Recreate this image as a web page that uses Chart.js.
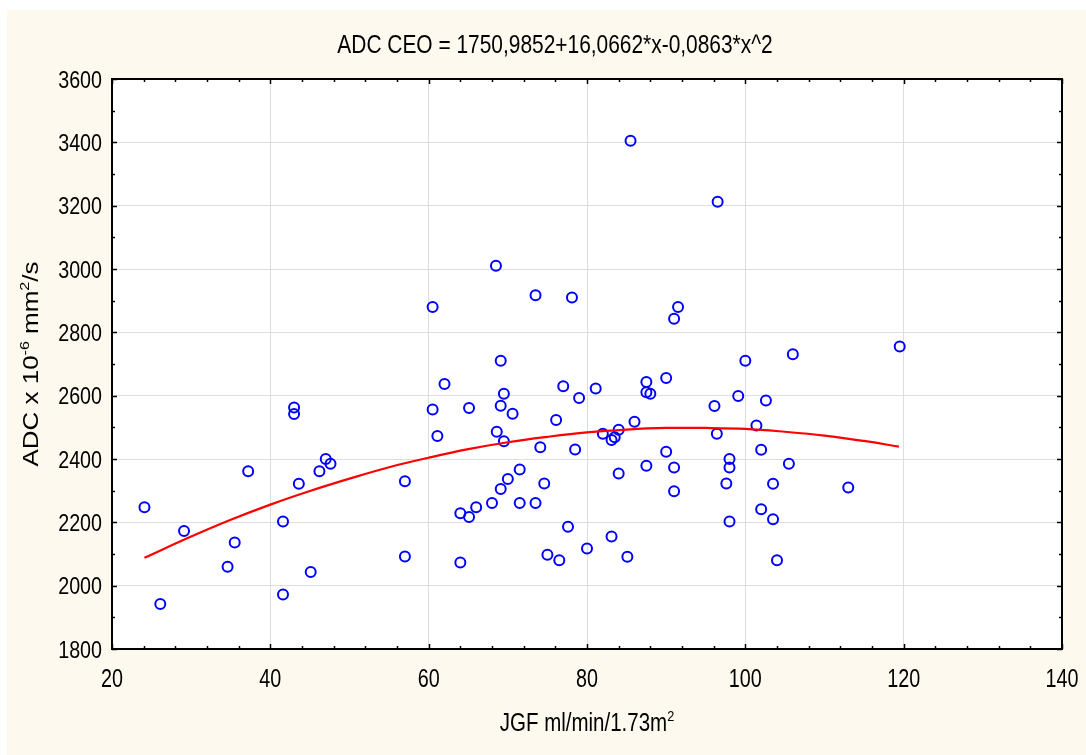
<!DOCTYPE html>
<html>
<head>
<meta charset="utf-8">
<title>ADC CEO vs JGF</title>
<script src="https://cdn.jsdelivr.net/npm/chart.js@4.4.0/dist/chart.umd.min.js"></script>
<style>
  html, body { margin: 0; padding: 0; background: #fff; }
  #wrap { position: absolute; left: 7px; top: 10px; width: 1079px; height: 745px; background: #fef9ee; }
</style>
</head>
<body>
<div id="wrap"><canvas id="chart" width="1079" height="745"></canvas></div>
<script>
// textos
const chartTitle = 'ADC CEO = 1750,9852+16,0662*x-0,0863*x^2';
const xTitleParts = [['JGF ml/min/1.73m', false], ['2', true]];
const yTitleParts = [['ADC x 10', false], ['-6', true], [' mm', false], ['2', true], ['/s', false]];

// ejes
const xTicks = [20, 40, 60, 80, 100, 120, 140];
const yTicks = [1800, 2000, 2200, 2400, 2600, 2800, 3000, 3200, 3400, 3600];

// puntos (JGF, ADC)
const jgf = [
  24.1, 26.1, 29.1, 34.6, 35.5, 37.2, 41.6, 41.6, 43.0, 43.0, 43.6, 45.1, 46.2, 47.0, 47.6, 57.0, 57.0,
  60.5, 60.5, 61.1, 62.0, 64.0, 64.0, 65.1, 65.1, 66.0, 68.0, 68.5, 68.6, 69.1, 69.1, 69.1, 69.5, 69.5,
  70.0, 70.6, 71.5, 71.5, 73.5, 73.5, 74.1, 74.6, 75.0, 76.1, 76.5, 77.0, 77.6, 78.1, 78.5, 79.0,
  80.0, 81.1, 82.0, 83.1, 83.1, 83.5, 84.0, 84.0, 85.1, 85.5, 86.0, 87.5, 87.5, 87.5, 88.0,
  90.0, 90.0, 91.0, 91.0, 91.0, 91.5,
  96.1, 96.4, 96.5, 97.6, 98.0, 98.0, 98.0, 99.1, 100.0, 101.4, 102.0, 102.0, 102.6, 103.5, 103.5,
  104.0, 105.5, 106.0, 113.0, 119.5
];
const adc = [
  2248, 1942, 2173, 2060, 2136, 2361, 2203, 1972, 2563, 2542, 2322, 2043, 2361, 2400, 2385, 2330, 2092,
  2880, 2556, 2473, 2637, 2229, 2073, 2561, 2217, 2248, 2261, 3010, 2486, 2710, 2568, 2305, 2606, 2456,
  2337, 2543, 2367, 2261, 2917, 2261, 2437, 2323, 2098, 2523, 2080, 2630, 2186, 2910, 2430, 2593,
  2117, 2623, 2480, 2460, 2155, 2469, 2492, 2354, 2091, 3405, 2518, 2643, 2611, 2379, 2606,
  2656, 2423, 2373, 2298, 2843, 2880,
  2567, 2480, 3212, 2323, 2400, 2373, 2203, 2599, 2710, 2506, 2429, 2241, 2585, 2322, 2210,
  2080, 2385, 2731, 2310, 2755
];

// curva de ajuste
const fitX = [24.1, 30, 35, 40, 45, 50, 55, 60, 65, 70, 75, 80, 85, 90, 95, 100, 105, 110, 115, 119.4];
const fitY = [2088, 2155, 2208, 2256, 2299, 2338, 2374, 2404, 2431, 2453, 2470, 2484, 2493, 2498, 2498, 2495, 2486, 2474, 2457, 2439];

const xMinorStep = 4;
const yMinorStep = 100;
const FAMILY = '"Liberation Sans", Arial, sans-serif';

// texto comprimido horizontalmente (tipo Arial Narrow), con partes en superindice
function drawRich(ctx, parts, x, y, size, sx, align, rot){
  const supSize = size * 0.62;
  const widths = parts.map(([t, sup]) => {
    ctx.font = (sup ? supSize : size) + 'px ' + FAMILY;
    return ctx.measureText(t).width;
  });
  const total = widths.reduce((a, b) => a + b, 0);
  let cx = align === 'center' ? -total / 2 : align === 'right' ? -total : 0;
  ctx.save();
  ctx.translate(x, y);
  if (rot) ctx.rotate(rot);
  ctx.scale(sx, 1);
  ctx.fillStyle = '#000';
  ctx.textAlign = 'left';
  ctx.textBaseline = 'alphabetic';
  parts.forEach(([t, sup], i) => {
    ctx.font = (sup ? supSize : size) + 'px ' + FAMILY;
    ctx.fillText(t, cx, sup ? -size * 0.42 : 0);
    cx += widths[i];
  });
  ctx.restore();
}

// fondo blanco del area, marco negro, marcas hacia adentro y textos
const frame = {
  id: 'frame',
  beforeDraw(chart){
    const {ctx, chartArea: a} = chart;
    ctx.save();
    ctx.fillStyle = '#fff';
    ctx.fillRect(a.left, a.top, a.right - a.left, a.bottom - a.top);
    ctx.restore();
  },
  afterDraw(chart){
    const {ctx, chartArea: a, scales: {x, y}} = chart;
    const line = (x1, y1, x2, y2) => { ctx.beginPath(); ctx.moveTo(x1, y1); ctx.lineTo(x2, y2); ctx.stroke(); };
    ctx.save();
    ctx.strokeStyle = '#000';
    ctx.lineWidth = 1.5;
    for (let v = x.min; v <= x.max; v += xMinorStep) {
      const px = Math.round(x.getPixelForValue(v)) + 0.5;
      const len = xTicks.includes(v) ? 5 : 3;
      line(px, a.bottom, px, a.bottom - len);
      line(px, a.top, px, a.top + len);
    }
    for (let v = y.min; v <= y.max; v += yMinorStep) {
      const py = Math.round(y.getPixelForValue(v)) + 0.5;
      const len = yTicks.includes(v) ? 5 : 3;
      line(a.left, py, a.left + len, py);
      line(a.right, py, a.right - len, py);
    }
    ctx.lineWidth = 2;
    ctx.strokeRect(a.left, a.top, a.right - a.left, a.bottom - a.top);
    ctx.restore();

    // etiquetas de los ejes
    xTicks.forEach(v => drawRich(ctx, [[String(v), false]], x.getPixelForValue(v), a.bottom + 38, 26, 0.76, 'center'));
    yTicks.forEach(v => drawRich(ctx, [[String(v), false]], a.left - 10, y.getPixelForValue(v) + 8.6, 24, 0.82, 'right'));

    // titulos
    drawRich(ctx, [[chartTitle, false]], 548, 43, 25.5, 0.82, 'center');
    drawRich(ctx, xTitleParts, (a.left + a.right) / 2, 721, 25, 0.82, 'center');
    drawRich(ctx, yTitleParts, 31.3, (a.top + a.bottom) / 2, 22, 1.18, 'center', -Math.PI / 2);
  }
};

const ctx = document.getElementById('chart');
new Chart(ctx, {
  type: 'scatter',
  data: {
    datasets: [
      {
        label: 'ajuste',
        type: 'line',
        data: fitX.map((v, i) => ({x: v, y: fitY[i]})),
        borderColor: '#ff0000',
        borderWidth: 2.2,
        pointRadius: 0,
        tension: 0.4,
        fill: false
      },
      {
        label: 'ADC CEO',
        data: jgf.map((v, i) => ({x: v, y: adc[i]})),
        pointStyle: 'circle',
        pointRadius: 5,
        pointBorderWidth: 2,
        borderColor: '#0000ff',
        backgroundColor: 'rgba(0,0,0,0)'
      }
    ]
  },
  options: {
    responsive: false,
    animation: false,
    layout: { padding: { left: 0, right: 24, top: 69, bottom: 0 } },
    plugins: {
      legend: { display: false },
      tooltip: { enabled: false },
      title: { display: false }
    },
    scales: {
      x: {
        type: 'linear',
        min: 20, max: 140,
        afterBuildTicks: s => { s.ticks = xTicks.map(v => ({value: v})); },
        afterFit: s => { s.height = 106; },
        grid: { color: '#dedede', lineWidth: 1, drawTicks: false },
        border: { display: false },
        ticks: { display: false }
      },
      y: {
        type: 'linear',
        min: 1800, max: 3600,
        afterBuildTicks: s => { s.ticks = yTicks.map(v => ({value: v})); },
        afterFit: s => { s.width = 105; },
        grid: { color: '#dedede', lineWidth: 1, drawTicks: false },
        border: { display: false },
        ticks: { display: false }
      }
    }
  },
  plugins: [frame]
});
</script>
</body>
</html>
